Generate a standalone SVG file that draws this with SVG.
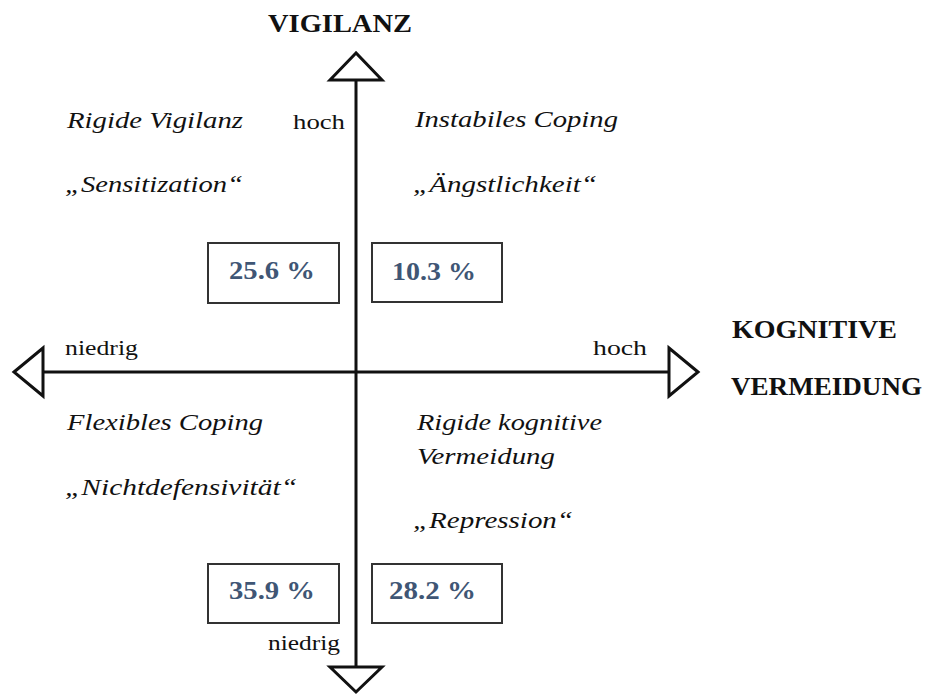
<svg xmlns="http://www.w3.org/2000/svg" width="935" height="695" viewBox="0 0 935 695">
<style>
.ax{stroke:#111;stroke-width:3;fill:none}
.head{fill:#fff;stroke:#111;stroke-width:3;stroke-linejoin:miter}
.title{font-family:"Liberation Serif","Times New Roman",serif;font-weight:bold;font-size:25px;fill:#111}
.lvl{font-family:"Liberation Serif","Times New Roman",serif;font-size:22px;fill:#111}
.q{font-family:"Liberation Serif","Times New Roman",serif;font-style:italic;font-size:24px;fill:#111}
.box{fill:#fff;stroke:#333;stroke-width:2}
.pct{font-family:"Liberation Serif","Times New Roman",serif;font-weight:bold;font-size:25px;fill:#3f5675}
</style>
<rect width="935" height="695" fill="#fff"/>
<g id="connectors">
<line class="ax" x1="356" y1="80" x2="356" y2="667"/>
<line class="ax" x1="43" y1="372" x2="669" y2="372"/>
<polygon class="head" points="356,53 330,80 382,80"/>
<polygon class="head" points="356,692 330,667 382,667"/>
<polygon class="head" points="14,372 43,348 43,396"/>
<polygon class="head" points="698,372 669,348 669,396"/>
</g>
<g id="axis-vigilanz">
<text class="title" x="268" y="32" textLength="144" lengthAdjust="spacingAndGlyphs">VIGILANZ</text>
<text class="lvl" x="293" y="129" textLength="52" lengthAdjust="spacingAndGlyphs">hoch</text>
<text class="lvl" x="268" y="650" textLength="72" lengthAdjust="spacingAndGlyphs">niedrig</text>
</g>
<g id="axis-vermeidung">
<text class="title" x="732" y="338" textLength="165" lengthAdjust="spacingAndGlyphs">KOGNITIVE</text>
<text class="title" x="731" y="395" textLength="191" lengthAdjust="spacingAndGlyphs">VERMEIDUNG</text>
<text class="lvl" x="593" y="355" textLength="54" lengthAdjust="spacingAndGlyphs">hoch</text>
<text class="lvl" x="65" y="355" textLength="73" lengthAdjust="spacingAndGlyphs">niedrig</text>
</g>
<g id="q-rigide-vigilanz">
<text class="q" x="67" y="128" textLength="176" lengthAdjust="spacingAndGlyphs">Rigide Vigilanz</text>
<text class="q" x="65" y="192" textLength="178" lengthAdjust="spacingAndGlyphs">„Sensitization“</text>
<rect class="box" x="208" y="243" width="131" height="60"/>
<text class="pct" x="229" y="279" textLength="86" lengthAdjust="spacingAndGlyphs">25.6 %</text>
</g>
<g id="q-instabiles-coping">
<text class="q" x="415" y="127" textLength="203" lengthAdjust="spacingAndGlyphs">Instabiles Coping</text>
<text class="q" x="413" y="192" textLength="184" lengthAdjust="spacingAndGlyphs">„Ängstlichkeit“</text>
<rect class="box" x="372" y="243" width="130" height="59"/>
<text class="pct" x="392" y="280" textLength="84" lengthAdjust="spacingAndGlyphs">10.3 %</text>
</g>
<g id="q-flexibles-coping">
<text class="q" x="67" y="430" textLength="196" lengthAdjust="spacingAndGlyphs">Flexibles Coping</text>
<text class="q" x="65" y="495" textLength="232" lengthAdjust="spacingAndGlyphs">„Nichtdefensivität“</text>
<rect class="box" x="208" y="564" width="131" height="59"/>
<text class="pct" x="229" y="599" textLength="86" lengthAdjust="spacingAndGlyphs">35.9 %</text>
</g>
<g id="q-rigide-kognitive-vermeidung">
<text class="q" x="417" y="430" textLength="185" lengthAdjust="spacingAndGlyphs">Rigide kognitive</text>
<text class="q" x="417" y="464" textLength="138" lengthAdjust="spacingAndGlyphs">Vermeidung</text>
<text class="q" x="413" y="528" textLength="160" lengthAdjust="spacingAndGlyphs">„Repression“</text>
<rect class="box" x="372" y="564" width="130" height="59"/>
<text class="pct" x="389" y="599" textLength="87" lengthAdjust="spacingAndGlyphs">28.2 %</text>
</g>
</svg>
